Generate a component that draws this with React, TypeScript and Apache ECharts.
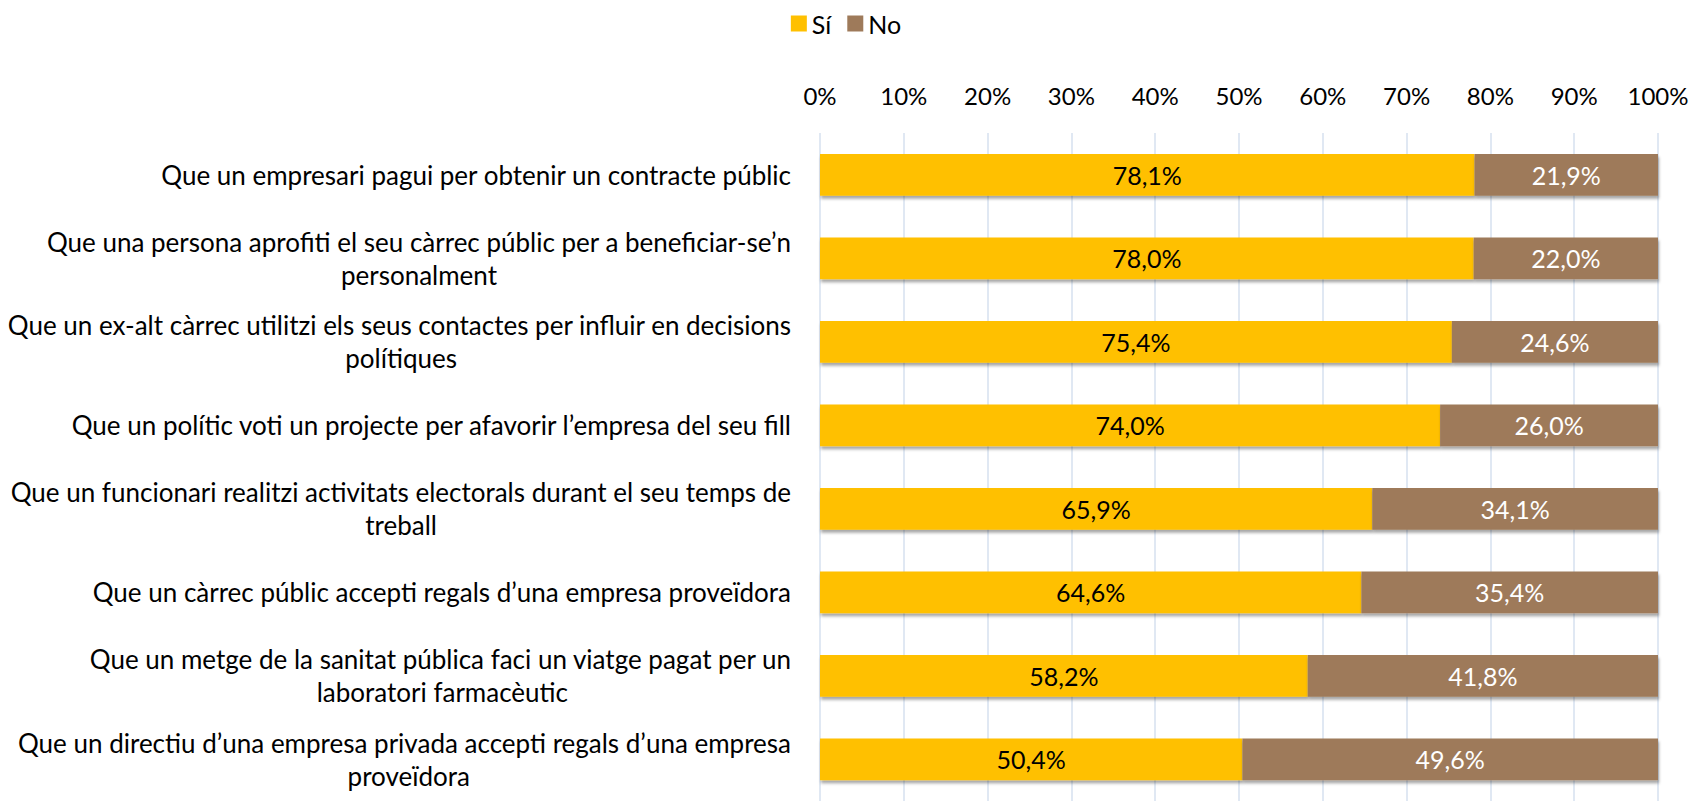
import React, { useEffect, useRef } from "react";
import * as echarts from "echarts";

const categories = [
  "Que un empresari pagui per obtenir un contracte públic",
  "Que una persona aprofiti el seu càrrec públic per a beneficiar-se’n\npersonalment",
  "Que un ex-alt càrrec utilitzi els seus contactes per influir en decisions\npolítiques",
  "Que un polític voti un projecte per afavorir l’empresa del seu fill",
  "Que un funcionari realitzi activitats electorals durant el seu temps de\ntreball",
  "Que un càrrec públic accepti regals d’una empresa proveïdora",
  "Que un metge de la sanitat pública faci un viatge pagat per un\nlaboratori farmacèutic",
  "Que un directiu d’una empresa privada accepti regals d’una empresa\nproveïdora",
];
const siValues = [78.1, 78.0, 75.4, 74.0, 65.9, 64.6, 58.2, 50.4];
const noValues = [21.9, 22.0, 24.6, 26.0, 34.1, 35.4, 41.8, 49.6];
const seriesNames = ["Sí", "No"];

// style only: right indent of the wrapped second line of each label
const secondLineIndent = [0, 294, 334, 0, 354, 0, 223, 321];

const FONT = "Lato";
const FS_CAT = 26;
const FS_AXIS = 24;
const FS_DATA = 25;
const FS_LEG = 25;

const fmt = (v: number) => v.toFixed(1).replace(".", ",") + "%";

export default function App() {
  const ref = useRef<HTMLDivElement>(null);
  useEffect(() => {
    if (!ref.current) return;
    const chart = echarts.init(ref.current, undefined, { renderer: "svg" });
    const rich: Record<string, any> = {
      a: { fontFamily: FONT, fontSize: FS_CAT, color: "#000", align: "right", lineHeight: 33 },
    };
    secondLineIndent.forEach((p, i) => {
      rich["b" + i] = {
        fontFamily: FONT,
        fontSize: FS_CAT,
        color: "#000",
        align: "right",
        lineHeight: 33,
        padding: [0, p, 0, 0],
      };
    });
    const shadow = {
      shadowColor: "rgba(0,0,0,0.35)",
      shadowBlur: 3,
      shadowOffsetX: 1,
      shadowOffsetY: 3,
    };
    chart.setOption({
      animation: false,
      textStyle: { fontFamily: FONT },
      legend: {
        top: 6,
        left: "center",
        itemWidth: 16,
        itemHeight: 16,
        itemGap: 16,
        icon: "rect",
        textStyle: { fontFamily: FONT, fontSize: FS_LEG, color: "#000" },
        data: seriesNames,
      },
      grid: { left: 820, right: 34, top: 133, height: 673, containLabel: false },
      xAxis: {
        type: "value",
        position: "top",
        min: 0,
        max: 100,
        interval: 10,
        axisLine: { show: false },
        axisTick: { show: false },
        axisLabel: {
          formatter: "{value}%",
          fontFamily: FONT,
          fontSize: FS_AXIS,
          color: "#000",
          margin: 26,
        },
        splitLine: { show: true, lineStyle: { color: "#D6E0EF", width: 1.5 } },
      },
      yAxis: {
        type: "category",
        inverse: true,
        data: categories,
        axisLine: { show: false },
        axisTick: { show: false },
        axisLabel: {
          margin: 29,
          formatter: (val: string, idx: number) => {
            const parts = val.split("\n");
            if (parts.length === 1) return "{a|" + parts[0] + "}";
            return "{a|" + parts[0] + "}\n{b" + idx + "|" + parts[1] + "}";
          },
          rich,
        },
      },
      series: [
        {
          name: seriesNames[0],
          type: "bar",
          stack: "total",
          barCategoryGap: "50%",
          data: siValues,
          itemStyle: { color: "#FFC000", ...shadow },
          label: {
            show: true,
            position: "inside",
            formatter: (p: any) => fmt(p.value),
            fontFamily: FONT,
            fontSize: FS_DATA,
            color: "#000",
          },
        },
        {
          name: seriesNames[1],
          type: "bar",
          stack: "total",
          barCategoryGap: "50%",
          data: noValues,
          itemStyle: { color: "#9E7A5A", ...shadow },
          label: {
            show: true,
            position: "inside",
            formatter: (p: any) => fmt(p.value),
            fontFamily: FONT,
            fontSize: FS_DATA,
            color: "#fff",
          },
        },
      ],
    });
    return () => chart.dispose();
  }, []);
  return (
    <div
      ref={ref}
      style={{ position: "absolute", left: 0, top: 0, width: 1692, height: 801 }}
    />
  );
}
